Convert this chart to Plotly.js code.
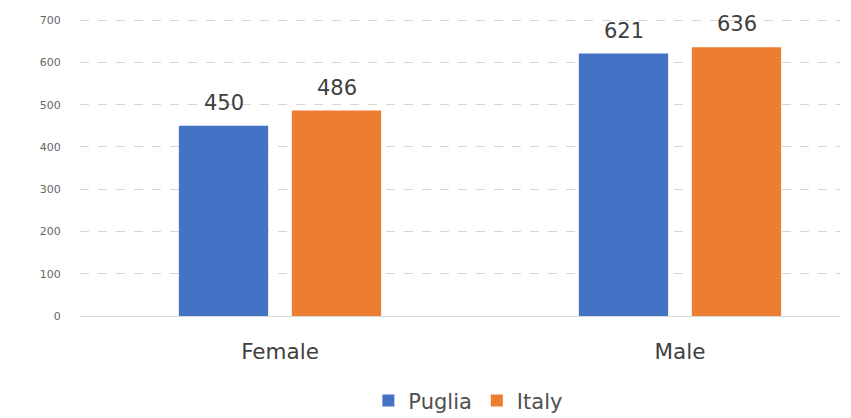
<!DOCTYPE html>
<html>
<head>
<meta charset="utf-8">
<script src="https://cdn.plot.ly/plotly-3.0.1.min.js"></script>
<style>html,body{margin:0;padding:0;background:#fff;}#chart{width:851px;height:418px;}</style>
</head>
<body>
<div id="chart"></div>
<script>
const categories = ["Female", "Male"];
const pugliaValues = [450, 621];
const italyValues = [486, 636];
const seriesNames = ["Puglia", "Italy"];
const seriesColors = ["#4472C4", "#ED7D31"];
const yTicks = [0, 100, 200, 300, 400, 500, 600, 700];

const FONT = "DejaVu Sans, Verdana, sans-serif";
const seriesValues = [pugliaValues, italyValues];

const traces = seriesValues.map((vals, i) => ({
  type: "bar", name: seriesNames[i], x: categories, y: vals,
  marker: {color: seriesColors[i]}, hoverinfo: "x+y"
}));

// value labels placed above each bar (offset to the bar's slot within the group)
const slotShift = [-56.5, 56.5];
const annotations = [];
seriesValues.forEach((vals, i) => {
  vals.forEach((v, j) => {
    annotations.push({
      x: categories[j], y: v, xref: "x", yref: "y",
      text: String(v), showarrow: false, xanchor: "center", yanchor: "bottom",
      xshift: slotShift[i], yshift: 9,
      font: {family: FONT, size: 21, color: "#404040"}
    });
  });
});

const layout = {
  width: 851, height: 418,
  margin: {l: 80, r: 11, t: 18, b: 102, autoexpand: false},
  paper_bgcolor: "#ffffff", plot_bgcolor: "#ffffff",
  barmode: "group", bargap: 0.435, bargroupgap: 0.21,
  showlegend: true,
  legend: {orientation: "h", x: 0.511, xanchor: "center", y: -0.285, yanchor: "middle",
           font: {family: FONT, size: 21, color: "#505050"},
           itemwidth: 30, tracegroupgap: 0},
  annotations: annotations,
  xaxis: {range: [-0.5, 1.4], showgrid: false, zeroline: false, showline: true,
          automargin: false,
          linecolor: "#d9d9d9", linewidth: 1,
          ticks: "outside", ticklen: 16, tickcolor: "rgba(0,0,0,0)",
          tickfont: {family: FONT, size: 21.5, color: "#404040"}},
  yaxis: {range: [0, 705], tickvals: yTicks, ticktext: yTicks.map(String),
          automargin: false,
          showgrid: true, gridcolor: "#d6d6d6", griddash: "dash", gridwidth: 1,
          zeroline: true, zerolinecolor: "#d9d9d9", zerolinewidth: 1,
          showline: false, ticks: "outside", ticklen: 16, tickcolor: "rgba(0,0,0,0)",
          tickfont: {family: FONT, size: 11, color: "#666666"}}
};

Plotly.newPlot("chart", traces, layout, {displayModeBar: false, staticPlot: true});
</script>
</body>
</html>
